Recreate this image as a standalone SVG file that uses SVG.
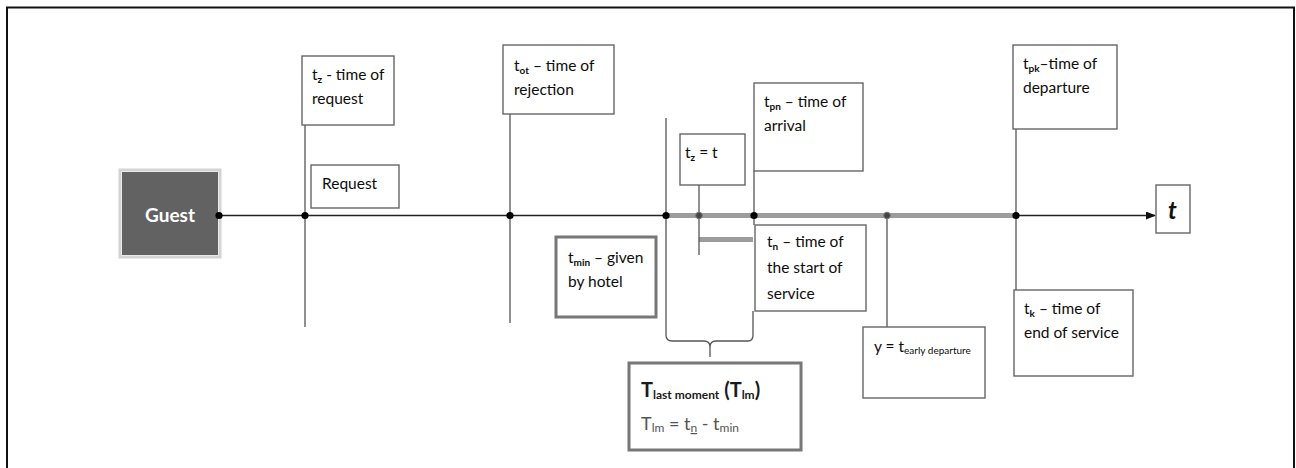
<svg xmlns="http://www.w3.org/2000/svg" width="1296" height="468" viewBox="0 0 1296 468">
  <defs>
    <marker id="arrow" markerWidth="10" markerHeight="8" refX="9" refY="4" orient="auto" markerUnits="userSpaceOnUse">
      <path d="M0,0 L10,4 L0,8 Z" fill="#111"/>
    </marker>
    <style>
      .box { fill: #fff; stroke: #666; stroke-width: 1.4; }
      .boxthick { fill: #fff; stroke: #777; stroke-width: 3; }
      .lbl { font-family: Lato, "Liberation Sans", sans-serif; font-size: 15.5px; fill: #0d0d0d; }
      .sub { font-size: 10px; font-weight: bold; }
      .axis { stroke: #222; stroke-width: 1.4; fill: none; }
      .vline { stroke: #555; stroke-width: 1.3; fill: none; }
      .band { stroke: #9c9c9c; stroke-width: 5; fill: none; }
      .dot { fill: #000; }
      .dotg { fill: #444; stroke: #777; stroke-width: 1; }
    </style>
  </defs>

  <rect x="0" y="0" width="1296" height="468" fill="#fff"/>
  <!-- outer frame -->
  <rect x="7" y="7.5" width="1287" height="480" fill="none" stroke="#111" stroke-width="2"/>

  <g id="guest">
    <rect x="120" y="170" width="100" height="87" fill="none" stroke="#d4d4d4" stroke-width="3"/>
    <rect x="122" y="172" width="96" height="83" fill="#626262"/>
    <text x="170" y="222" text-anchor="middle" font-family="Lato, 'Liberation Sans', sans-serif" font-size="19" font-weight="bold" fill="#fff">Guest</text>
  </g>

  <!-- connectors: time axis, markers, guide lines, bracket -->
  <g id="connectors">
    <line class="axis" x1="219" y1="215.5" x2="1155" y2="215.5" marker-end="url(#arrow)"/>
    <line class="band" x1="666" y1="215.5" x2="1016" y2="215.5"/>
    <line x1="699" y1="239.5" x2="753" y2="239.5" stroke="#9c9c9c" stroke-width="5"/>
    <line class="vline" x1="305" y1="125" x2="305" y2="327"/>
    <line class="vline" x1="510" y1="114" x2="510" y2="323"/>
    <line class="vline" x1="699" y1="185" x2="699" y2="255"/>
    <line class="vline" x1="754" y1="171" x2="754" y2="225"/>
    <line class="vline" x1="887" y1="215" x2="887" y2="327"/>
    <line class="vline" x1="1016" y1="129" x2="1016" y2="290"/>
    <!-- brace under the last-moment interval -->
    <path class="vline" d="M666,118 L666,335 Q666,341 672,341 L704,341 Q710,341 710,347 L710,357 M710,347 Q710,341 716,341 L748,341 Q753,341 753,335 L753,311"/>
    <circle class="dot" cx="219" cy="215.5" r="3.6"/>
    <circle class="dot" cx="305" cy="215.5" r="3.6"/>
    <circle class="dot" cx="510" cy="215.5" r="3.6"/>
    <circle class="dot" cx="666" cy="215.5" r="3.6"/>
    <circle class="dotg" cx="699" cy="215.5" r="3.3"/>
    <circle class="dot" cx="754" cy="215.5" r="3.6"/>
    <circle class="dotg" cx="887" cy="215.5" r="3.3"/>
    <circle class="dot" cx="1016" cy="215.5" r="3.6"/>
  </g>

  <g id="t-request">
    <rect class="box" x="302" y="56" width="92" height="69"/>
    <text class="lbl" x="312" y="80">t<tspan class="sub" dy="3">z</tspan><tspan dy="-3"> - time of</tspan></text>
    <text class="lbl" x="312" y="104">request</text>
  </g>

  <g id="request">
    <rect class="box" x="311" y="165" width="88" height="43"/>
    <text class="lbl" x="322" y="189">Request</text>
  </g>

  <g id="t-rejection">
    <rect class="box" x="503" y="45" width="111" height="69"/>
    <text class="lbl" x="514" y="71">t<tspan class="sub" dy="3">ot</tspan><tspan dy="-3"> – time of</tspan></text>
    <text class="lbl" x="514" y="95">rejection</text>
  </g>

  <g id="t-min">
    <rect class="boxthick" x="556" y="237" width="100" height="80"/>
    <text class="lbl" x="568" y="263">t<tspan class="sub" dy="3">min</tspan><tspan dy="-3"> – given</tspan></text>
    <text class="lbl" x="568" y="287">by hotel</text>
  </g>

  <g id="t-z-eq">
    <rect class="box" x="680" y="134" width="65" height="51"/>
    <text class="lbl" x="685" y="158">t<tspan class="sub" dy="3">z</tspan><tspan dy="-3"> = t</tspan></text>
  </g>

  <g id="t-arrival">
    <rect class="box" x="754" y="83" width="109" height="88"/>
    <text class="lbl" x="764" y="107">t<tspan class="sub" dy="3">pn</tspan><tspan dy="-3"> – time of</tspan></text>
    <text class="lbl" x="764" y="131">arrival</text>
  </g>

  <g id="t-start">
    <rect class="box" x="755" y="225" width="111" height="86"/>
    <text class="lbl" x="767" y="247">t<tspan class="sub" dy="3">n</tspan><tspan dy="-3"> – time of</tspan></text>
    <text class="lbl" x="767" y="273">the start of</text>
    <text class="lbl" x="767" y="299">service</text>
  </g>

  <g id="t-last-moment">
    <rect class="boxthick" x="629" y="363" width="172" height="87"/>
    <text x="641" y="397" font-family="Lato, 'Liberation Sans', sans-serif" font-size="20" font-weight="bold" fill="#1a1a1a">T<tspan font-size="12" dy="2">last moment</tspan><tspan dy="-2"> (T</tspan><tspan font-size="12" dy="2">lm</tspan><tspan dy="-2">)</tspan></text>
    <text x="641" y="430" font-family="Lato, 'Liberation Sans', sans-serif" font-size="18" fill="#555">T<tspan font-size="12" dy="2">lm</tspan><tspan dy="-2"> = t</tspan><tspan font-size="12" dy="2" text-decoration="underline">n</tspan><tspan dy="-2"> - t</tspan><tspan font-size="12" dy="2">min</tspan></text>
  </g>

  <g id="t-early-departure">
    <rect class="box" x="863" y="327" width="122" height="71"/>
    <text class="lbl" x="874" y="352" font-size="13">y = t<tspan font-size="10" dy="2">early departure</tspan></text>
  </g>

  <g id="t-departure">
    <rect class="box" x="1013" y="45" width="104" height="84"/>
    <text class="lbl" x="1023" y="69">t<tspan class="sub" dy="3">pk</tspan><tspan dy="-3">–time of</tspan></text>
    <text class="lbl" x="1023" y="93">departure</text>
  </g>

  <g id="t-end">
    <rect class="box" x="1014" y="290" width="119" height="86"/>
    <text class="lbl" x="1024" y="314">t<tspan class="sub" dy="3">k</tspan><tspan dy="-3"> – time of</tspan></text>
    <text class="lbl" x="1024" y="338">end of service</text>
  </g>

  <g id="t-axis-label">
    <rect class="box" x="1156" y="185" width="34" height="48"/>
    <text x="1168" y="219" font-family="Lato, 'Liberation Sans', sans-serif" font-size="24" font-weight="bold" font-style="italic" fill="#111">t</text>
  </g>
</svg>
